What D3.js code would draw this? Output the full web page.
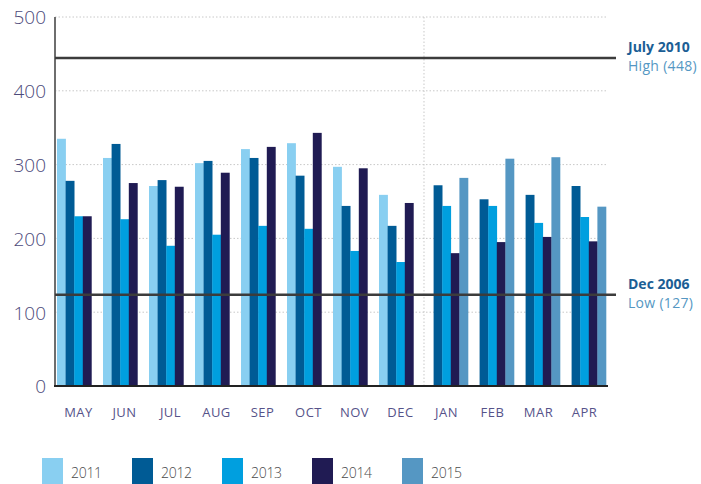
<!DOCTYPE html>
<html><head><meta charset="utf-8">
<script src="https://cdn.jsdelivr.net/npm/d3@7"></script>
<style>
body{margin:0;background:#fff;}
svg{display:block;font-family:"Open Sans",Lato,sans-serif;}
</style></head>
<body><svg id="chart" width="701" height="484"></svg>
<script>
const months = ["MAY","JUN","JUL","AUG","SEP","OCT","NOV","DEC","JAN","FEB","MAR","APR"];
const years = ["2011","2012","2013","2014","2015"];
const v2011 = [335,309,271,302,321,329,297,259,null,null,null,null];
const v2012 = [278,328,279,305,309,285,244,217,272,253,259,271];
const v2013 = [230,226,190,205,217,213,183,168,244,244,221,229];
const v2014 = [230,275,270,289,324,343,295,248,180,195,202,196];
const v2015 = [null,null,null,null,null,null,null,null,282,308,310,243];
const yTicks = [0,100,200,300,400,500];
const refLines = [{value:448, title:"July 2010", sub:"High (448)"},{value:127, title:"Dec 2006", sub:"Low (127)"}];
const colors = ["#89cff1","#005b95","#009fdf","#201b53","#5597c3"];
const series = [v2011,v2012,v2013,v2014,v2015];

const svg = d3.select("#chart");
const x = d3.scaleBand().domain(months).range([55,608]).paddingInner(0.065).paddingOuter(0.0435);
const xs = d3.scaleBand().domain(years).range([0,x.bandwidth()]);
const y = d3.scaleLinear().domain([0,500]).range([386,17]);

// grid
svg.append("g").selectAll("line").data(yTicks.filter(d=>d>0)).join("line")
  .attr("x1",55).attr("x2",607).attr("y1",d=>y(d)).attr("y2",d=>y(d))
  .attr("stroke","#c8c8c8").attr("stroke-width",1).attr("stroke-dasharray","1.5,2");
// vertical divider
const divX = x("JAN") - x.step()*x.paddingInner()/2 + 0.5;
svg.append("line").attr("x1",divX).attr("x2",divX).attr("y1",y(500)).attr("y2",y(0))
  .attr("stroke","#c8c8c8").attr("stroke-dasharray","1.5,2");

// bars
const rows = [];
months.forEach((m,i)=>years.forEach((yr,j)=>{ if(series[j][i]!=null) rows.push({m,yr,j,v:series[j][i]}); }));
svg.append("g").selectAll("rect").data(rows).join("rect")
  .attr("x",d=>x(d.m)+xs(d.yr)).attr("width",xs.bandwidth()+0.3)
  .attr("y",d=>y(d.v)).attr("height",d=>y(0)-y(d.v)).attr("fill",d=>colors[d.j]);

// axes
svg.append("line").attr("x1",55).attr("x2",55).attr("y1",y(500)).attr("y2",y(0)+1)
  .attr("stroke","#6e6e6e").attr("stroke-width",2);
svg.append("line").attr("x1",54).attr("x2",608).attr("y1",y(0)).attr("y2",y(0))
  .attr("stroke","#222").attr("stroke-width",2);

const yAxis = svg.append("g").attr("transform","translate(46,0)")
  .call(d3.axisLeft(y).tickValues(yTicks).tickSize(0).tickPadding(0));
yAxis.select(".domain").remove();
yAxis.selectAll("text").attr("fill","#4d4a7a").attr("font-family","'Open Sans',sans-serif").attr("font-size",19).attr("font-weight",300).attr("dy","0.36em");

const xAxis = svg.append("g").attr("transform",`translate(0,${y(0)})`)
  .call(d3.axisBottom(x).tickSize(0).tickPadding(0));
xAxis.select(".domain").remove();
xAxis.selectAll("text").attr("fill","#56538a").attr("font-family","'Open Sans',sans-serif").attr("font-size",13).attr("font-weight",400).attr("dy",0).attr("y",31).attr("letter-spacing","0.5px");

// reference lines
svg.append("g").selectAll("line").data(refLines).join("line")
  .attr("x1",55).attr("x2",616).attr("y1",d=>y(d.value)+2.5).attr("y2",d=>y(d.value)+2.5)
  .attr("stroke","#3c3c3c").attr("stroke-width",2.5);
const ann = svg.append("g").selectAll("g").data(refLines).join("g")
  .attr("transform",d=>`translate(628,${y(d.value)+2.5})`);
ann.append("text").attr("y",-6).attr("fill","#1b5e95").attr("font-size",14).attr("font-weight",700).attr("font-family","'Open Sans',sans-serif").text(d=>d.title);
ann.append("text").attr("y",13).attr("fill","#5597c3").attr("font-size",14).attr("font-weight",400).attr("letter-spacing","0.3px").attr("font-family","'Open Sans',sans-serif").text(d=>d.sub);

// legend
const lg = svg.append("g").selectAll("g").data(years).join("g")
  .attr("transform",(d,i)=>`translate(${42+i*90},458)`);
lg.append("rect").attr("width",21).attr("height",26).attr("fill",(d,i)=>colors[i]);
lg.append("text").attr("x",29).attr("y",20).attr("fill","#4a4a4a").attr("font-size",14).attr("font-weight",300).attr("letter-spacing","-0.3px").text(d=>d);
</script></body></html>
